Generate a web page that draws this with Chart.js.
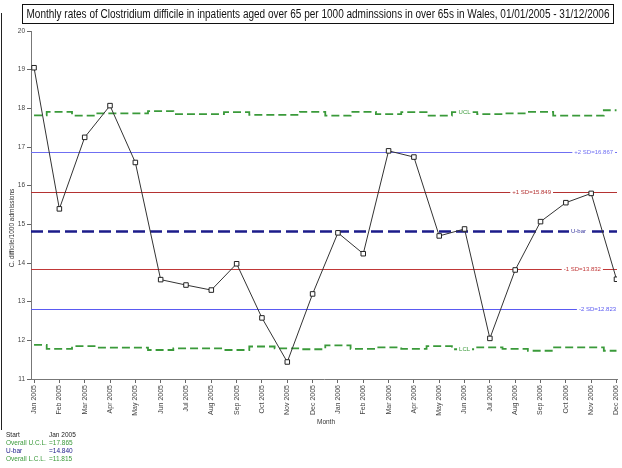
<!DOCTYPE html>
<html>
<head>
<meta charset="utf-8">
<title>Monthly rates of Clostridium difficile, Wales 2005-2006</title>
<script src="https://cdn.jsdelivr.net/npm/chart.js@4/dist/chart.umd.min.js"></script>
<style>
  html, body { margin: 0; padding: 0; background: #fff; }
  canvas { display: block; }
</style>
</head>
<body>
<canvas id="chart" width="622" height="468"></canvas>
<script>
// Monthly C. difficile rates per 1000 admissions (patients aged over 65)
const months = [
  'Jan 2005', 'Feb 2005', 'Mar 2005', 'Apr 2005', 'May 2005', 'Jun 2005',
  'Jul 2005', 'Aug 2005', 'Sep 2005', 'Oct 2005', 'Nov 2005', 'Dec 2005',
  'Jan 2006', 'Feb 2006', 'Mar 2006', 'Apr 2006', 'May 2006', 'Jun 2006',
  'Jul 2006', 'Aug 2006', 'Sep 2006', 'Oct 2006', 'Nov 2006', 'Dec 2006'
];
const rates = [
  19.05, 15.40, 17.25, 18.07, 16.60, 13.57,
  13.43, 13.30, 13.98, 12.58, 11.44, 13.20,
  14.78, 14.24, 16.90, 16.74, 14.70, 14.88,
  12.05, 13.82, 15.07, 15.56, 15.80, 13.58
];
// Monthly upper / lower control limits
const ucl = [
  17.82, 17.91, 17.81, 17.87, 17.87, 17.93,
  17.85, 17.85, 17.90, 17.83, 17.83, 17.91,
  17.81, 17.91, 17.85, 17.90, 17.81, 17.90,
  17.85, 17.87, 17.91, 17.81, 17.81, 17.95
];
const lcl = [
  11.88, 11.78, 11.85, 11.81, 11.81, 11.75,
  11.79, 11.79, 11.75, 11.84, 11.79, 11.77,
  11.87, 11.78, 11.82, 11.78, 11.85, 11.77,
  11.82, 11.78, 11.73, 11.82, 11.82, 11.73
];
// Centre line and sigma bands
const limitLabels = ['+2 SD=16.867', '+1 SD=15.849', 'U-bar', '-1 SD=13.832', '-2 SD=12.823'];
const limitValues = [16.867, 15.849, 14.840, 13.832, 12.823];
const yTicks = [11, 12, 13, 14, 15, 16, 17, 18, 19, 20];
// Summary block
const summaryLabels = ['Start', 'Overall U.C.L.', 'U-bar', 'Overall L.C.L.'];
const summaryValues = ['Jan 2005', '=17.865', '=14.840', '=11.815'];
const titleText = 'Monthly rates of Clostridium difficile in inpatients aged over 65 per 1000 adminssions in over 65s in Wales, 01/01/2005 - 31/12/2006';

const FONT = '"Liberation Sans", Arial, Helvetica, sans-serif';
const GREEN = '#3a9a3a';
const NAVY = '#1c1c8a';

// line styles for the horizontal limits, in the order of limitValues
const limitStyles = [
  { color: '#6f6ff2', width: 1, dash: null, at: 22.1 },
  { color: '#b43232', width: 1, dash: null, at: 19.65 },
  { color: NAVY, width: 2.5, dash: [12, 5], at: 21.5, text: '#3a3aa0' },
  { color: '#c03838', width: 1, dash: null, at: 21.65 },
  { color: '#5a5af2', width: 1, dash: null, at: 22.25 }
];

function labelOnLine(ctx, text, cx, py, color, size) {
  ctx.font = size + 'px ' + FONT;
  const w = ctx.measureText(text).width;
  ctx.fillStyle = '#fff';
  ctx.fillRect(cx - w / 2 - 2, py - 4, w + 4, 8);
  ctx.fillStyle = color;
  ctx.textAlign = 'center';
  ctx.textBaseline = 'middle';
  ctx.fillText(text, cx, py);
}

const decor = {
  id: 'decor',
  beforeDatasetsDraw(chart) {
    const { ctx, chartArea: a, scales: { x, y } } = chart;
    limitValues.forEach((v, i) => {
      const st = limitStyles[i];
      const yy = Math.round(y.getPixelForValue(v));
      ctx.save();
      if (st.dash) {
        ctx.strokeStyle = st.color;
        ctx.lineWidth = st.width;
        ctx.setLineDash(st.dash);
        ctx.beginPath();
        ctx.moveTo(a.left, yy + 0.5);
        ctx.lineTo(a.right, yy + 0.5);
        ctx.stroke();
        ctx.setLineDash([]);
      } else {
        // solid thin band, filled so it stays exactly one pixel tall
        ctx.fillStyle = st.color;
        ctx.fillRect(a.left, yy, a.right - a.left, st.width);
      }
      labelOnLine(ctx, limitLabels[i], x.getPixelForValue(st.at), yy + 0.5, st.text || st.color, 6);
      ctx.restore();
    });
  },
  afterDatasetsDraw(chart) {
    const { ctx, scales: { x, y } } = chart;
    ctx.save();
    labelOnLine(ctx, 'UCL', x.getPixelForValue(17), y.getPixelForValue(ucl[17]), GREEN, 6);
    labelOnLine(ctx, 'LCL', x.getPixelForValue(17), y.getPixelForValue(lcl[17]), GREEN, 6);
    ctx.restore();
  },
  afterDraw(chart) {
    const { ctx, chartArea: a } = chart;
    ctx.save();
    // frame edge on the left
    ctx.strokeStyle = '#222';
    ctx.lineWidth = 1;
    ctx.beginPath();
    ctx.moveTo(1.5, 13);
    ctx.lineTo(1.5, 430);
    ctx.stroke();
    // boxed title
    ctx.fillStyle = '#fff';
    ctx.fillRect(22, 4, 591, 19);
    ctx.strokeStyle = '#111';
    ctx.strokeRect(22.5, 4.5, 591, 19);
    ctx.font = '12px ' + FONT;
    ctx.fillStyle = '#111';
    ctx.textBaseline = 'middle';
    ctx.textAlign = 'center';
    const tw = ctx.measureText(titleText).width;
    const sx = Math.min(1, 583 / tw);
    ctx.save();
    ctx.translate(318, 14.5);
    ctx.scale(sx, 1);
    ctx.fillText(titleText, 0, 0);
    ctx.restore();
    // axis titles
    ctx.font = '6.5px ' + FONT;
    ctx.fillStyle = '#333';
    ctx.save();
    ctx.translate(12, 228);
    ctx.rotate(-Math.PI / 2);
    ctx.fillText('C. difficile/1000 admissions', 0, 0);
    ctx.restore();
    ctx.fillText('Month', (a.left + a.right) / 2 + 2, 422);
    // summary block
    const colours = ['#222', GREEN, NAVY, GREEN];
    ctx.textAlign = 'left';
    summaryLabels.forEach((s, i) => {
      const yy = 435 + i * 8;
      ctx.fillStyle = colours[i];
      ctx.fillText(s, 6, yy);
      ctx.fillText(summaryValues[i], 49, yy);
    });
    ctx.restore();
  }
};

const points = arr => arr.map((v, i) => ({ x: i, y: v }));

new Chart(document.getElementById('chart'), {
  type: 'line',
  data: {
    datasets: [
      {
        label: 'Rate',
        data: points(rates),
        borderColor: '#333',
        borderWidth: 1,
        pointStyle: 'rect',
        pointRadius: 3.2,
        pointBorderWidth: 1,
        pointBorderColor: '#222',
        pointBackgroundColor: '#fff',
        tension: 0
      },
      {
        label: 'UCL',
        data: points(ucl),
        borderColor: GREEN,
        borderWidth: 1.8,
        borderDash: [8, 4],
        stepped: 'middle',
        pointRadius: 0
      },
      {
        label: 'LCL',
        data: points(lcl),
        borderColor: GREEN,
        borderWidth: 1.8,
        borderDash: [8, 4],
        stepped: 'middle',
        pointRadius: 0
      }
    ]
  },
  options: {
    responsive: false,
    animation: false,
    devicePixelRatio: 1,
    layout: { padding: { top: 31, right: 1, left: 0, bottom: 0 } },
    plugins: { legend: { display: false }, tooltip: { enabled: false }, title: { display: false } },
    scales: {
      x: {
        type: 'linear',
        min: -0.12,
        max: 23.02,
        afterBuildTicks: s => { s.ticks = months.map((_, i) => ({ value: i })); },
        afterFit: s => { s.height = 89; s.paddingLeft = 0; s.paddingRight = 0; },
        grid: { drawOnChartArea: false, drawTicks: true, tickLength: 4, color: '#666' },
        border: { color: '#777', width: 1 },
        ticks: {
          autoSkip: false,
          minRotation: 90,
          maxRotation: 90,
          padding: 2,
          color: '#444',
          font: { family: FONT, size: 7 },
          callback: v => months[Math.round(v)]
        }
      },
      y: {
        min: 11,
        max: 20,
        afterBuildTicks: s => { s.ticks = yTicks.map(v => ({ value: v })); },
        afterFit: s => { s.width = 31; s.paddingTop = 0; s.paddingBottom = 0; },
        grid: { drawOnChartArea: false, drawTicks: true, tickLength: 4, color: '#666' },
        border: { color: '#777', width: 1 },
        ticks: {
          padding: 2,
          color: '#444',
          font: { family: FONT, size: 6.5 }
        }
      }
    }
  },
  plugins: [decor]
});
</script>
</body>
</html>
